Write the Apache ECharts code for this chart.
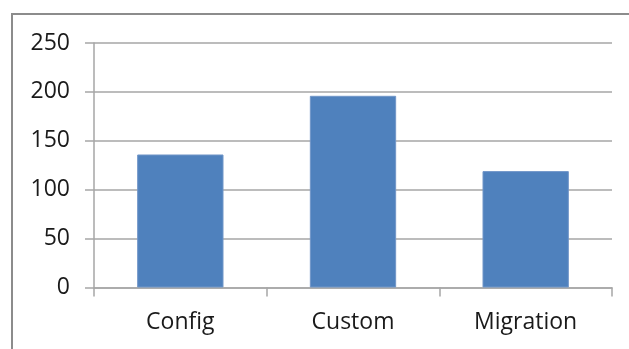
<!DOCTYPE html>
<html>
<head>
<meta charset="utf-8">
<script src="https://cdn.jsdelivr.net/npm/echarts@6/dist/echarts.min.js"></script>
<style>
  html, body { margin: 0; padding: 0; background: #fff; }
  #chart { width: 629px; height: 349px; }
</style>
</head>
<body>
<div id="chart"></div>
<script>
// Bar chart: counts by type
const categories = ['Config', 'Custom', 'Migration'];
const counts = [136, 196, 119];
const yTicks = { min: 0, max: 250, interval: 50 };

const chart = echarts.init(document.getElementById('chart'));
const axisGray = '#a6a6a6';
const font = "'Open Sans', sans-serif";

chart.setOption({
  backgroundColor: '#fff',
  animation: false,
  graphic: [{
    type: 'rect',
    shape: { x: 12, y: 14, width: 640, height: 360 },
    style: { fill: 'none', stroke: '#8c8c8c', lineWidth: 2 },
    silent: true
  }],
  grid: { left: 94, right: 17, top: 43, bottom: 61.5 },
  xAxis: {
    type: 'category',
    data: categories,
    axisLine: { lineStyle: { color: axisGray, width: 1.5 } },
    axisTick: { show: true, length: 9, lineStyle: { color: axisGray, width: 1.5 } },
    axisLabel: { color: '#1a1a1a', fontFamily: font, fontSize: 23, margin: 23 }
  },
  yAxis: {
    type: 'value',
    min: yTicks.min,
    max: yTicks.max,
    interval: yTicks.interval,
    axisLine: { show: true, lineStyle: { color: axisGray, width: 1.5 } },
    axisTick: { show: true, length: 9, lineStyle: { color: axisGray, width: 1.5 } },
    axisLabel: { color: '#1a1a1a', fontFamily: font, fontSize: 23, margin: 24 },
    splitLine: { lineStyle: { color: axisGray, width: 1.5 } }
  },
  series: [{
    type: 'bar',
    data: counts,
    barWidth: '50%',
    itemStyle: { color: '#4f81bd', borderColor: '#7196c8', borderWidth: 1 }
  }]
});
</script>
</body>
</html>
